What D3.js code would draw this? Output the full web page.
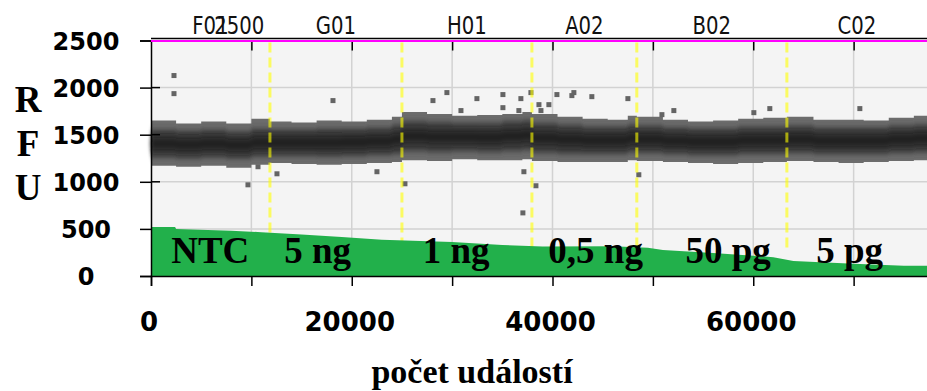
<!DOCTYPE html>
<html>
<head>
<meta charset="utf-8">
<script src="https://cdn.jsdelivr.net/npm/d3@7"></script>
<style>
	html, body { margin: 0; padding: 0; background: #fff; }
	svg { display: block; }
</style>
</head>
<body>
<svg id="chart" width="927" height="391"></svg>
<script>
// wells along the run
const WELL_NAMES = ["F01", "G01", "H01", "A02", "B02", "C02"];
const WELL_BOUNDS = [0, 11850, 25000, 37950, 48400, 63350, 80000];

// sample labels in the green area
const SAMPLE_LABELS = ["NTC", "5 ng", "1 ng", "0,5 ng", "50 pg", "5 pg"];
const SAMPLE_LABEL_EVENTS = [5900, 16600, 30400, 44300, 57500, 69600];

// droplet band (RFU)
const BAND_EVENTS = [0, 2500, 5000, 7500, 10000, 11850, 14000, 16500, 19000, 21500, 24000, 25000, 27500, 30000, 32500, 35000, 37000, 37950, 40500, 43000, 45500, 47500, 48400, 51000, 53500, 56000, 58500, 61000, 63350, 66000, 68500, 71000, 73500, 76000, 78000];
const BAND_OUTER_TOP = [1650, 1620, 1640, 1620, 1670, 1640, 1630, 1650, 1640, 1660, 1690, 1740, 1720, 1700, 1710, 1720, 1740, 1720, 1690, 1670, 1660, 1700, 1690, 1660, 1640, 1650, 1670, 1680, 1690, 1660, 1660, 1650, 1680, 1700, 1700];
const BAND_CORE_TOP = [1550, 1540, 1550, 1530, 1560, 1550, 1550, 1560, 1560, 1570, 1600, 1640, 1630, 1620, 1620, 1640, 1650, 1620, 1600, 1580, 1580, 1600, 1590, 1570, 1560, 1560, 1580, 1580, 1590, 1570, 1570, 1570, 1590, 1600, 1600];
const BAND_CORE_BOTTOM = [1260, 1250, 1260, 1250, 1270, 1280, 1280, 1270, 1280, 1290, 1300, 1330, 1320, 1330, 1320, 1330, 1340, 1310, 1300, 1300, 1300, 1320, 1310, 1300, 1290, 1290, 1300, 1300, 1310, 1300, 1300, 1300, 1310, 1320, 1320];
const BAND_OUTER_BOTTOM = [1170, 1160, 1170, 1150, 1180, 1200, 1190, 1180, 1190, 1200, 1210, 1230, 1220, 1240, 1230, 1230, 1240, 1220, 1210, 1210, 1210, 1230, 1220, 1210, 1200, 1190, 1200, 1210, 1220, 1210, 1200, 1210, 1220, 1230, 1230];

// single droplets off the band
const OUTLIER_EVENTS = [2290, 2290, 9660, 10660, 12550, 18130, 22510, 25300, 28090, 29480, 30880, 32470, 35060, 35060, 36650, 36850, 37050, 37150, 37850, 38350, 38650, 38850, 39640, 40440, 41930, 42130, 43920, 47510, 48600, 50900, 52090, 60060, 61650, 70620];
const OUTLIER_VALUES = [2128, 1936, 968, 1160, 1085, 1862, 1107, 979, 1862, 1947, 1756, 1883, 1926, 1787, 1756, 1883, 670, 1107, 1947, 958, 1819, 1756, 1819, 1926, 1915, 1947, 1904, 1883, 1075, 1713, 1756, 1734, 1777, 1777];

// threshold (green area)
const GREEN_EVENTS = [0, 2400, 2500, 8000, 11000, 15000, 19000, 23000, 30000, 35000, 39000, 46000, 49500, 51000, 56000, 62000, 64000, 70000, 75000, 80000];
const GREEN_VALUES = [520, 520, 500, 480, 465, 440, 415, 385, 360, 330, 312, 315, 300, 275, 245, 200, 160, 130, 110, 105];

const Y_TICKS = [0, 500, 1000, 1500, 2000, 2500];
const X_LABEL_TICKS = [0, 20000, 40000, 60000];
const X_TICKS = d3.range(0, 80000, 10000);

const SANS = "'DejaVu Sans', Verdana, sans-serif";
const SERIF = "'Liberation Serif', 'Times New Roman', serif";

const svg = d3.select("#chart");
const width = +svg.attr("width");

const x = d3.scaleLinear().domain([0, 80000]).range([151, 954]);
const y = d3.scaleLinear().domain([0, 2500]).range([276, 40.5]);

const plotLeft = x(0);
const plotRight = width;

// background
svg.append("rect")
	.attr("x", plotLeft)
	.attr("y", y(2500))
	.attr("width", plotRight - plotLeft)
	.attr("height", y(0) - y(2500))
	.attr("fill", "#f4f4f4");

// grid
svg.append("g")
	.attr("stroke", "#d2d2d2")
	.attr("stroke-width", 1.5)
	.call(g => g.selectAll(".gy")
		.data(Y_TICKS.slice(1, -1))
		.join("line")
		.attr("x1", plotLeft)
		.attr("x2", plotRight)
		.attr("y1", d => y(d))
		.attr("y2", d => y(d)))
	.call(g => g.selectAll(".gx")
		.data(X_TICKS.slice(1))
		.join("line")
		.attr("x1", d => x(d))
		.attr("x2", d => x(d))
		.attr("y1", y(2500))
		.attr("y2", y(0)));

// band
const defs = svg.append("defs");
defs.append("filter")
	.attr("id", "soft")
	.attr("x", "-5%").attr("y", "-50%").attr("width", "110%").attr("height", "200%")
	.append("feGaussianBlur")
	.attr("stdDeviation", "1.5 3");
defs.append("filter")
	.attr("id", "softer")
	.attr("x", "-5%").attr("y", "-50%").attr("width", "110%").attr("height", "200%")
	.append("feGaussianBlur")
	.attr("stdDeviation", "2 5");

const bandData = BAND_EVENTS.map((e, i) => ({
	e: e,
	ot: BAND_OUTER_TOP[i],
	ct: BAND_CORE_TOP[i],
	cb: BAND_CORE_BOTTOM[i],
	ob: BAND_OUTER_BOTTOM[i],
}));

const bandArea = (top, bottom) => d3.area()
	.curve(d3.curveStepAfter)
	.x(d => x(d.e))
	.y0(d => y(bottom(d)))
	.y1(d => y(top(d)));

svg.append("path")
	.datum(bandData)
	.attr("fill", "#6c6c6c")
	.attr("d", bandArea(d => d.ot, d => d.ob));

svg.append("path")
	.datum(bandData)
	.attr("fill", "#3a3a3a")
	.attr("filter", "url(#soft)")
	.attr("d", bandArea(d => d.ct, d => d.cb));

svg.append("path")
	.datum(bandData)
	.attr("fill", "#1c1c1c")
	.attr("filter", "url(#softer)")
	.attr("d", bandArea(d => (d.ct + d.cb) / 2 + 60, d => (d.ct + d.cb) / 2 - 60));

// outliers
svg.append("g")
	.attr("fill", "#646464")
	.selectAll("rect")
	.data(OUTLIER_EVENTS.map((e, i) => ({ e: e, v: OUTLIER_VALUES[i] })))
	.join("rect")
	.attr("x", d => x(d.e) - 2.5)
	.attr("y", d => y(d.v) - 2.5)
	.attr("width", 5)
	.attr("height", 5);

// well boundaries (the green area covers their lower end)
svg.append("g")
	.attr("stroke", "#ffff00")
	.attr("stroke-opacity", 0.6)
	.attr("stroke-width", 3)
	.attr("stroke-dasharray", "10 5")
	.selectAll("line")
	.data(WELL_BOUNDS.slice(1, -1))
	.join("line")
	.attr("x1", d => x(d))
	.attr("x2", d => x(d))
	.attr("y1", y(2500) + 2)
	.attr("y2", y(250));

// green area
svg.append("path")
	.datum(GREEN_EVENTS.map((e, i) => ({ e: e, v: GREEN_VALUES[i] })))
	.attr("fill", "#22b04b")
	.attr("d", d3.area()
		.x(d => x(d.e))
		.y0(y(0))
		.y1(d => y(d.v)));

svg.append("g")
	.attr("font-family", SERIF)
	.attr("font-weight", "bold")
	.attr("font-size", 37)
	.attr("fill", "#000")
	.attr("text-anchor", "middle")
	.selectAll("text")
	.data(SAMPLE_LABELS)
	.join("text")
	.attr("x", (d, i) => x(SAMPLE_LABEL_EVENTS[i]))
	.attr("y", 263)
	.text(d => d);

// axes
const axisLeft = svg.append("g")
	.attr("transform", `translate(${plotLeft}, 0)`)
	.call(d3.axisLeft(y)
		.tickValues(Y_TICKS)
		.tickSize(11)
		.tickFormat(""));
axisLeft.select(".domain").attr("stroke", "#000").attr("stroke-width", 1.5);
axisLeft.selectAll(".tick line").attr("stroke", "#000").attr("stroke-width", 1.5);

svg.append("g")
	.attr("stroke", "#000")
	.attr("stroke-width", 1.5)
	.selectAll("line")
	.data([1000, 1500, 2000])
	.join("line")
	.attr("x1", plotLeft)
	.attr("x2", plotLeft + 9)
	.attr("y1", d => y(d))
	.attr("y2", d => y(d));

svg.append("g")
	.attr("font-family", SANS)
	.attr("font-weight", "bold")
	.attr("font-size", 24)
	.attr("text-anchor", "middle")
	.attr("dominant-baseline", "central")
	.selectAll("text")
	.data(Y_TICKS)
	.join("text")
	.attr("x", 86)
	.attr("y", d => y(d) + 1)
	.text(d => d);

const axisBottom = svg.append("g")
	.attr("transform", `translate(0, ${y(0)})`)
	.call(d3.axisBottom(x)
		.tickValues(X_TICKS)
		.tickSize(10)
		.tickFormat(""));
axisBottom.select(".domain").attr("stroke", "#000").attr("stroke-width", 1.5);
axisBottom.selectAll(".tick line").attr("stroke", "#000").attr("stroke-width", 1.5);

svg.append("g")
	.attr("font-family", SANS)
	.attr("font-weight", "bold")
	.attr("font-size", 26)
	.attr("text-anchor", "middle")
	.attr("dominant-baseline", "central")
	.selectAll("text")
	.data(X_LABEL_TICKS)
	.join("text")
	.attr("x", d => x(d) - 2)
	.attr("y", 322)
	.text(d => d);

// top axis with well names
const axisTop = svg.append("g")
	.attr("transform", `translate(0, ${y(2500)})`)
	.call(d3.axisBottom(x)
		.tickValues(X_TICKS.slice(1))
		.tickSize(10)
		.tickFormat(""));
axisTop.select(".domain").remove();
axisTop.selectAll(".tick line").attr("stroke", "#000").attr("stroke-width", 1.5);

svg.append("line")
	.attr("x1", plotLeft).attr("x2", plotRight)
	.attr("y1", 38.5).attr("y2", 38.5)
	.attr("stroke", "#000").attr("stroke-width", 1.5);
svg.append("line")
	.attr("x1", plotLeft).attr("x2", plotRight)
	.attr("y1", 41).attr("y2", 41)
	.attr("stroke", "#ff00ff").attr("stroke-width", 2);

const topLabels = svg.append("g")
	.attr("font-family", SANS)
	.attr("font-size", 24)
	.attr("fill", "#111");

topLabels.selectAll("text.well")
	.data(WELL_NAMES)
	.join("text")
	.attr("class", "well")
	.attr("text-anchor", "middle")
	.attr("transform", (d, i) => {
		const cx = x((WELL_BOUNDS[i] + Math.min(WELL_BOUNDS[i + 1], 77300)) / 2);
		return `translate(${cx}, 34) scale(0.82, 1)`;
	})
	.text(d => d);

topLabels.append("text")
	.attr("text-anchor", "middle")
	.attr("transform", `translate(${x(8800)}, 34) scale(0.82, 1)`)
	.text("2500");

// axis titles
svg.append("g")
	.attr("font-family", SERIF)
	.attr("font-weight", "bold")
	.attr("font-size", 37)
	.attr("text-anchor", "middle")
	.selectAll("text")
	.data(["R", "F", "U"])
	.join("text")
	.attr("x", 28)
	.attr("y", (d, i) => 112 + i * 44)
	.text(d => d);

svg.append("text")
	.attr("x", 472)
	.attr("y", 383)
	.attr("font-family", SERIF)
	.attr("font-weight", "bold")
	.attr("font-size", 34)
	.attr("text-anchor", "middle")
	.text("počet událostí");
</script>
</body>
</html>
